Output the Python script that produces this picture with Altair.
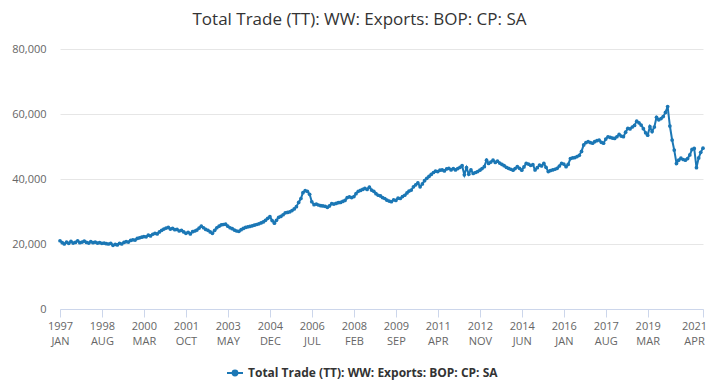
import altair as alt
import pandas as pd

TITLE = "Total Trade (TT): WW: Exports: BOP: CP: SA"
SERIES = "Total Trade (TT): WW: Exports: BOP: CP: SA"
BLUE = "#1b77b5"

v1997 = [21000, 20400, 20000, 20600, 20200, 20800, 20300, 20500, 21000, 20400, 20600, 20900]
v1998 = [20500, 20300, 20700, 20400, 20600, 20300, 20400, 20200, 20300, 20100, 20000, 20200]
v1999 = [19600, 19900, 19700, 20200, 20000, 20500, 20700, 20600, 21100, 21300, 21200, 21700]
v2000 = [21900, 22100, 22300, 22200, 22700, 22500, 23000, 23300, 23100, 23700, 24200, 24600]
v2001 = [24900, 25100, 24600, 24800, 24400, 24500, 24000, 24200, 23700, 23300, 23600, 23100]
v2002 = [23800, 24000, 24300, 24900, 25500, 25000, 24500, 24200, 23700, 23300, 24200, 25000]
v2003 = [25500, 25900, 26000, 26100, 25500, 25000, 24700, 24300, 24000, 23900, 24400, 24800]
v2004 = [25100, 25300, 25400, 25600, 25800, 26000, 26200, 26500, 26800, 27300, 27900, 28400]
v2005 = [27200, 26400, 27300, 28200, 28500, 29000, 29600, 29700, 29900, 30300, 30800, 31500]
v2006 = [32800, 34000, 35800, 36400, 36200, 35300, 33000, 32100, 32300, 32000, 31800, 31700]
v2007 = [31600, 31300, 31700, 32400, 32300, 32500, 32700, 32800, 33100, 33400, 34300, 34500]
v2008 = [34300, 34600, 35500, 36200, 36500, 36800, 37100, 36800, 37500, 36600, 36200, 35500]
v2009 = [35000, 34800, 34300, 34000, 33500, 33200, 33000, 33600, 33400, 34100, 34000, 34600]
v2010 = [35000, 35700, 36300, 36600, 37600, 38200, 38800, 37600, 38500, 39500, 40200, 40800]
v2011 = [41400, 42000, 42400, 42300, 42700, 42800, 42500, 43100, 43300, 42800, 43200, 42800]
v2012 = [43200, 43600, 44100, 41300, 43500, 41500, 42800, 41700, 42000, 42300, 42700, 43200]
v2013 = [43800, 45800, 44800, 45200, 45800, 45100, 45500, 44900, 44500, 44100, 43600, 43300]
v2014 = [43000, 42700, 43200, 43800, 43300, 42700, 43700, 44800, 44600, 44200, 44400, 42800]
v2015 = [43500, 44300, 44000, 44800, 43600, 42300, 42600, 42800, 43000, 43300, 44000, 44800]
v2016 = [44600, 43800, 44500, 46300, 46500, 46600, 46900, 47300, 48500, 50500, 51200, 51500]
v2017 = [51200, 51000, 51500, 51800, 52000, 51300, 51000, 52300, 53000, 52800, 52600, 52500]
v2018 = [53000, 53700, 53200, 53000, 54400, 55600, 55400, 56000, 56500, 57800, 57300, 56600]
v2019 = [55500, 54200, 53500, 56100, 54600, 56000, 59000, 58200, 58600, 59200, 60500, 62300]
v2020 = [56300, 52000, 48900, 44800, 45800, 46400, 46000, 45800, 46300, 47400, 49100, 49400]
v2021 = [43500, 46500, 48200, 49500]

tick_months = ["1997-01", "1998-08", "2000-03", "2001-10", "2003-05", "2004-12",
               "2006-07", "2008-02", "2009-09", "2011-04", "2012-11", "2014-06",
               "2016-01", "2017-08", "2019-03", "2021-04"]
y_ticks = [0, 20000, 40000, 60000, 80000]

values = (v1997 + v1998 + v1999 + v2000 + v2001 + v2002 + v2003 + v2004 + v2005
          + v2006 + v2007 + v2008 + v2009 + v2010 + v2011 + v2012 + v2013 + v2014
          + v2015 + v2016 + v2017 + v2018 + v2019 + v2020 + v2021)
dates = pd.date_range("1997-01-01", periods=len(values), freq="MS")
df = pd.DataFrame({
    "date": dates.strftime("%Y-%m-%d"),
    "value": values,
    "series": SERIES,
})


def ms(s):
    return int(pd.Timestamp(s + "-01", tz="UTC").value // 10**6)


tick_ms = [ms(t) for t in tick_months]
dom = [ms("1997-01"), ms("2021-04")]

FONT = "Open Sans"

chart = alt.Chart(df).mark_line(
    strokeWidth=2,
    point=alt.OverlayMarkDef(size=14, filled=True),
).encode(
    x=alt.X("date:T",
            scale=alt.Scale(type="utc", domain=dom, nice=False),
            axis=alt.Axis(values=tick_ms, title=None, grid=False,
                          labelExpr="[utcFormat(datum.value, '%Y'), upper(utcFormat(datum.value, '%b'))]",
                          domainColor="#ccd6eb", tickColor="#ccd6eb", tickSize=8,
                          labelPadding=3, labelLineHeight=15, labelOverlap=False,
                          labelFlush=False,
                          labelOffset={"condition": {"test": f"datum.value >= {tick_ms[-1]}", "value": -9},
                                       "value": 0})),
    y=alt.Y("value:Q",
            scale=alt.Scale(domain=[0, 80000], nice=False),
            axis=alt.Axis(values=y_ticks, format=",.0f", title=None, domain=False,
                          ticks=False, gridColor="#e6e6e6", labelPadding=14)),
    color=alt.Color("series:N", scale=alt.Scale(range=[BLUE]),
                    legend=alt.Legend(title=None, orient="none", legendX=166, legendY=315,
                                      labelFont=FONT, labelFontWeight="bold",
                                      labelFontSize=12, labelColor="#333333", labelLimit=500,
                                      symbolType="M-1,0H1M-0.3,0a0.3,0.3 0 1,0 0.6,0a0.3,0.3 0 1,0 -0.6,0",
                                      symbolSize=256, symbolStrokeWidth=2,
                                      symbolFillColor=BLUE, symbolStrokeColor=BLUE)),
).properties(
    width=643,
    height=260,
    autosize="none",
    padding={"left": 52, "top": 41, "right": 4, "bottom": 73},
    title=alt.TitleParams(TITLE, font=FONT, fontSize=17, fontWeight="normal",
                          color="#333333", dx=-22, offset=14),
).configure_axis(
    labelFont=FONT, labelFontSize=11, labelColor="#666666",
).configure_view(stroke=None)

chart.save("out.html", embed_options={"renderer": "svg", "actions": False})
